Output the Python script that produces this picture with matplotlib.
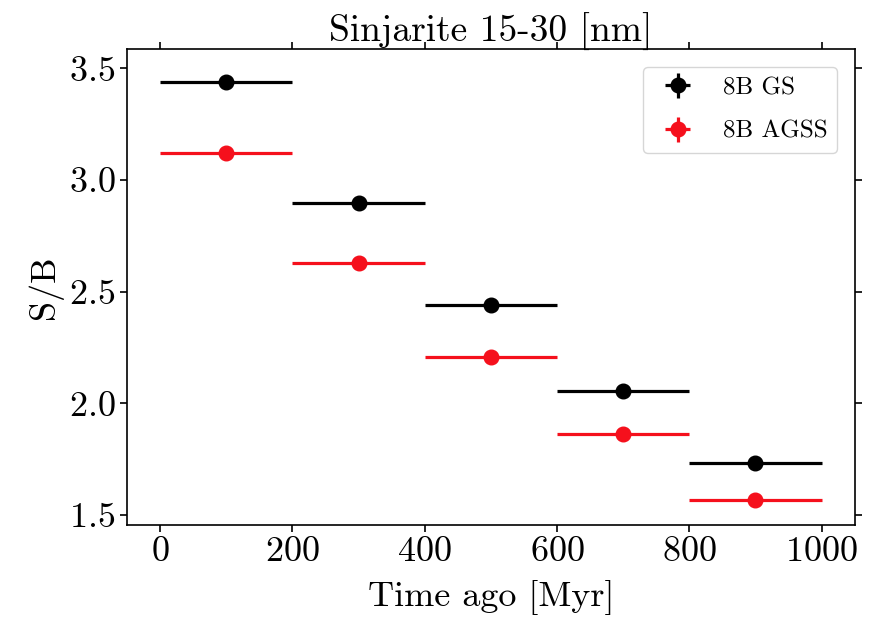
import matplotlib
matplotlib.use("Agg")
import matplotlib.pyplot as plt

plt.rcParams['font.family'] = ['cmr10', 'DejaVu Serif']
plt.rcParams['mathtext.fontset'] = 'cm'
plt.rcParams['axes.formatter.use_mathtext'] = True

time_centers = [100, 300, 500, 700, 900]
time_halfwidth = [100, 100, 100, 100, 100]
sb_gs = [3.440, 2.897, 2.442, 2.056, 1.734]
sb_agss = [3.122, 2.627, 2.209, 1.861, 1.569]
sb_err = [0.0, 0.0, 0.0, 0.0, 0.0]

fig = plt.figure(figsize=(8.73, 6.22), dpi=100)
ax = fig.add_axes([0.1455, 0.156, 0.979 - 0.1455, 0.921 - 0.156])

ax.errorbar(time_centers, sb_gs, xerr=time_halfwidth, yerr=sb_err, fmt='o',
            color='black', ms=10.5, elinewidth=2.3, capsize=0, label='8B GS')
ax.errorbar(time_centers, sb_agss, xerr=time_halfwidth, yerr=sb_err, fmt='o',
            color='#f5101c', ms=10.5, elinewidth=2.3, capsize=0, label='8B AGSS')

ax.set_xlim(-50, 1050)
ax.set_ylim(1.455, 3.586)
ax.set_xticks([0, 200, 400, 600, 800, 1000])
ax.set_yticks([1.5, 2.0, 2.5, 3.0, 3.5])
ax.tick_params(direction='out', top=True, right=True, labelsize=26, width=1.2, length=5)
for s in ax.spines.values():
    s.set_linewidth(1.2)

ax.set_xlabel('Time ago [Myr]', fontsize=26, labelpad=8)
ax.set_ylabel('S/B', fontsize=26)
ax.set_title('Sinjarite 15-30 [nm]', fontsize=27, pad=5)
ax.legend(loc='upper right', fontsize=18, frameon=True, labelspacing=0.85,
          borderaxespad=0.7)

fig.savefig('out.png', dpi=100)
